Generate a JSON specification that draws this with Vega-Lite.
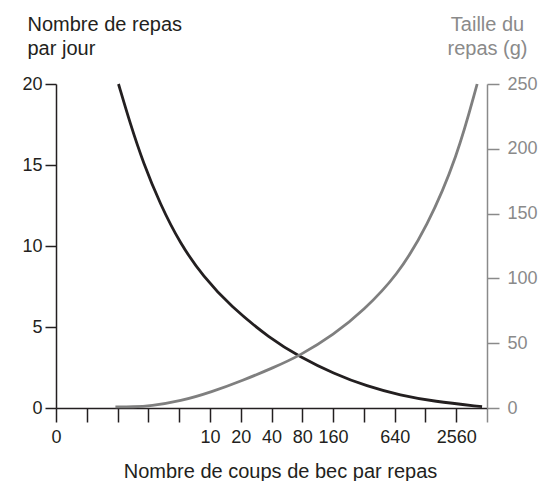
{
  "$schema": "https://vega.github.io/schema/vega-lite/v6.json",
  "width": 431,
  "height": 324,
  "autosize": "none",
  "padding": {"left": 56, "top": 84, "right": 66, "bottom": 73},
  "config": {
    "view": {"stroke": null},
    "font": "Liberation Sans",
    "axis": {"grid": false, "domainWidth": 1.5, "tickWidth": 1.5, "labelFontSize": 18, "titleFontSize": 20, "titleFontWeight": "normal", "labelFont": "Liberation Sans", "titleFont": "Liberation Sans"}
  },
  "data": {
    "values": [
      {"serie": "repas", "x": 2.03, "v": 20.0},
      {"serie": "repas", "x": 2.41, "v": 17.55},
      {"serie": "repas", "x": 2.84, "v": 15.1},
      {"serie": "repas", "x": 3.38, "v": 12.6},
      {"serie": "repas", "x": 4.03, "v": 10.15},
      {"serie": "repas", "x": 4.79, "v": 8.09},
      {"serie": "repas", "x": 5.66, "v": 6.3},
      {"serie": "repas", "x": 6.96, "v": 4.28},
      {"serie": "repas", "x": 7.93, "v": 3.15},
      {"serie": "repas", "x": 9.02, "v": 2.12},
      {"serie": "repas", "x": 10.1, "v": 1.34},
      {"serie": "repas", "x": 11.19, "v": 0.78},
      {"serie": "repas", "x": 12.27, "v": 0.41},
      {"serie": "repas", "x": 13.84, "v": 0.08},
      {"serie": "taille", "x": 1.93, "v": 0.8},
      {"serie": "taille", "x": 2.5, "v": 0.9},
      {"serie": "taille", "x": 3.06, "v": 1.5},
      {"serie": "taille", "x": 4.05, "v": 5.3},
      {"serie": "taille", "x": 5.05, "v": 12.3},
      {"serie": "taille", "x": 6.07, "v": 21.3},
      {"serie": "taille", "x": 7.05, "v": 31.0},
      {"serie": "taille", "x": 7.93, "v": 40.5},
      {"serie": "taille", "x": 9.02, "v": 56.5},
      {"serie": "taille", "x": 9.99, "v": 75.3},
      {"serie": "taille", "x": 11.08, "v": 102},
      {"serie": "taille", "x": 12.05, "v": 139.5},
      {"serie": "taille", "x": 13.03, "v": 193.4},
      {"serie": "taille", "x": 13.68, "v": 250}
    ]
  },
  "encoding": {
    "x": {
      "field": "x", "type": "quantitative",
      "scale": {"domain": [0, 14], "nice": false, "zero": false},
      "axis": {
        "values": [0, 1, 2, 3, 4, 5, 6, 7, 8, 9, 10, 11, 12, 13, 14],
        "labelExpr": "datum.value == 0 ? '0' : ((datum.value >= 5 && datum.value != 10 && datum.value != 12 && datum.value < 14) ? format(10 * pow(2, datum.value - 5), 'd') : '')",
        "labelFlush": false,
        "labelOverlap": false,
        "tickSize": 14,
        "labelPadding": 6,
        "domainColor": "#231f20",
        "tickColor": {"condition": {"test": "datum.value === 14", "value": "#8a8a8a"}, "value": "#231f20"},
        "labelColor": "#231f20",
        "title": "Nombre de coups de bec par repas",
        "titleColor": "#231f20",
        "titleAlign": "center",
        "titleBaseline": "alphabetic",
        "titleX": 224,
        "titleY": 69
      }
    }
  },
  "layer": [
    {
      "transform": [{"filter": "datum.serie == 'repas'"}],
      "mark": {"type": "line", "color": "#231f20", "strokeWidth": 2.8, "interpolate": "basis"},
      "encoding": {
        "y": {
          "field": "v", "type": "quantitative",
          "scale": {"domain": [0, 20], "nice": false},
          "axis": {
            "values": [0, 5, 10, 15, 20],
            "tickSize": 11,
            "labelPadding": 3,
            "domainColor": "#231f20",
            "tickColor": "#231f20",
            "labelColor": "#231f20",
            "title": ["Nombre de repas", "par jour"],
            "titleColor": "#231f20",
            "titleAngle": 0,
            "titleAlign": "left",
            "titleBaseline": "alphabetic",
            "titleLineHeight": 24,
            "titleX": -29,
            "titleY": -54
          }
        }
      }
    },
    {
      "transform": [{"filter": "datum.serie == 'taille'"}],
      "mark": {"type": "line", "color": "#7f7f7f", "strokeWidth": 2.8, "interpolate": "basis"},
      "encoding": {
        "y": {
          "field": "v", "type": "quantitative",
          "scale": {"domain": [0, 250], "nice": false},
          "axis": {
            "orient": "right",
            "values": [0, 50, 100, 150, 200, 250],
            "tickSize": 12,
            "labelPadding": 8,
            "domainColor": "#8a8a8a",
            "tickColor": "#8a8a8a",
            "labelColor": "#8a8a8a",
            "title": ["Taille du", "repas (g)"],
            "titleColor": "#8a8a8a",
            "titleAngle": 0,
            "titleAlign": "center",
            "titleBaseline": "alphabetic",
            "titleLineHeight": 24,
            "titleX": 0,
            "titleY": -54
          }
        }
      }
    }
  ],
  "resolve": {"scale": {"y": "independent"}}
}
